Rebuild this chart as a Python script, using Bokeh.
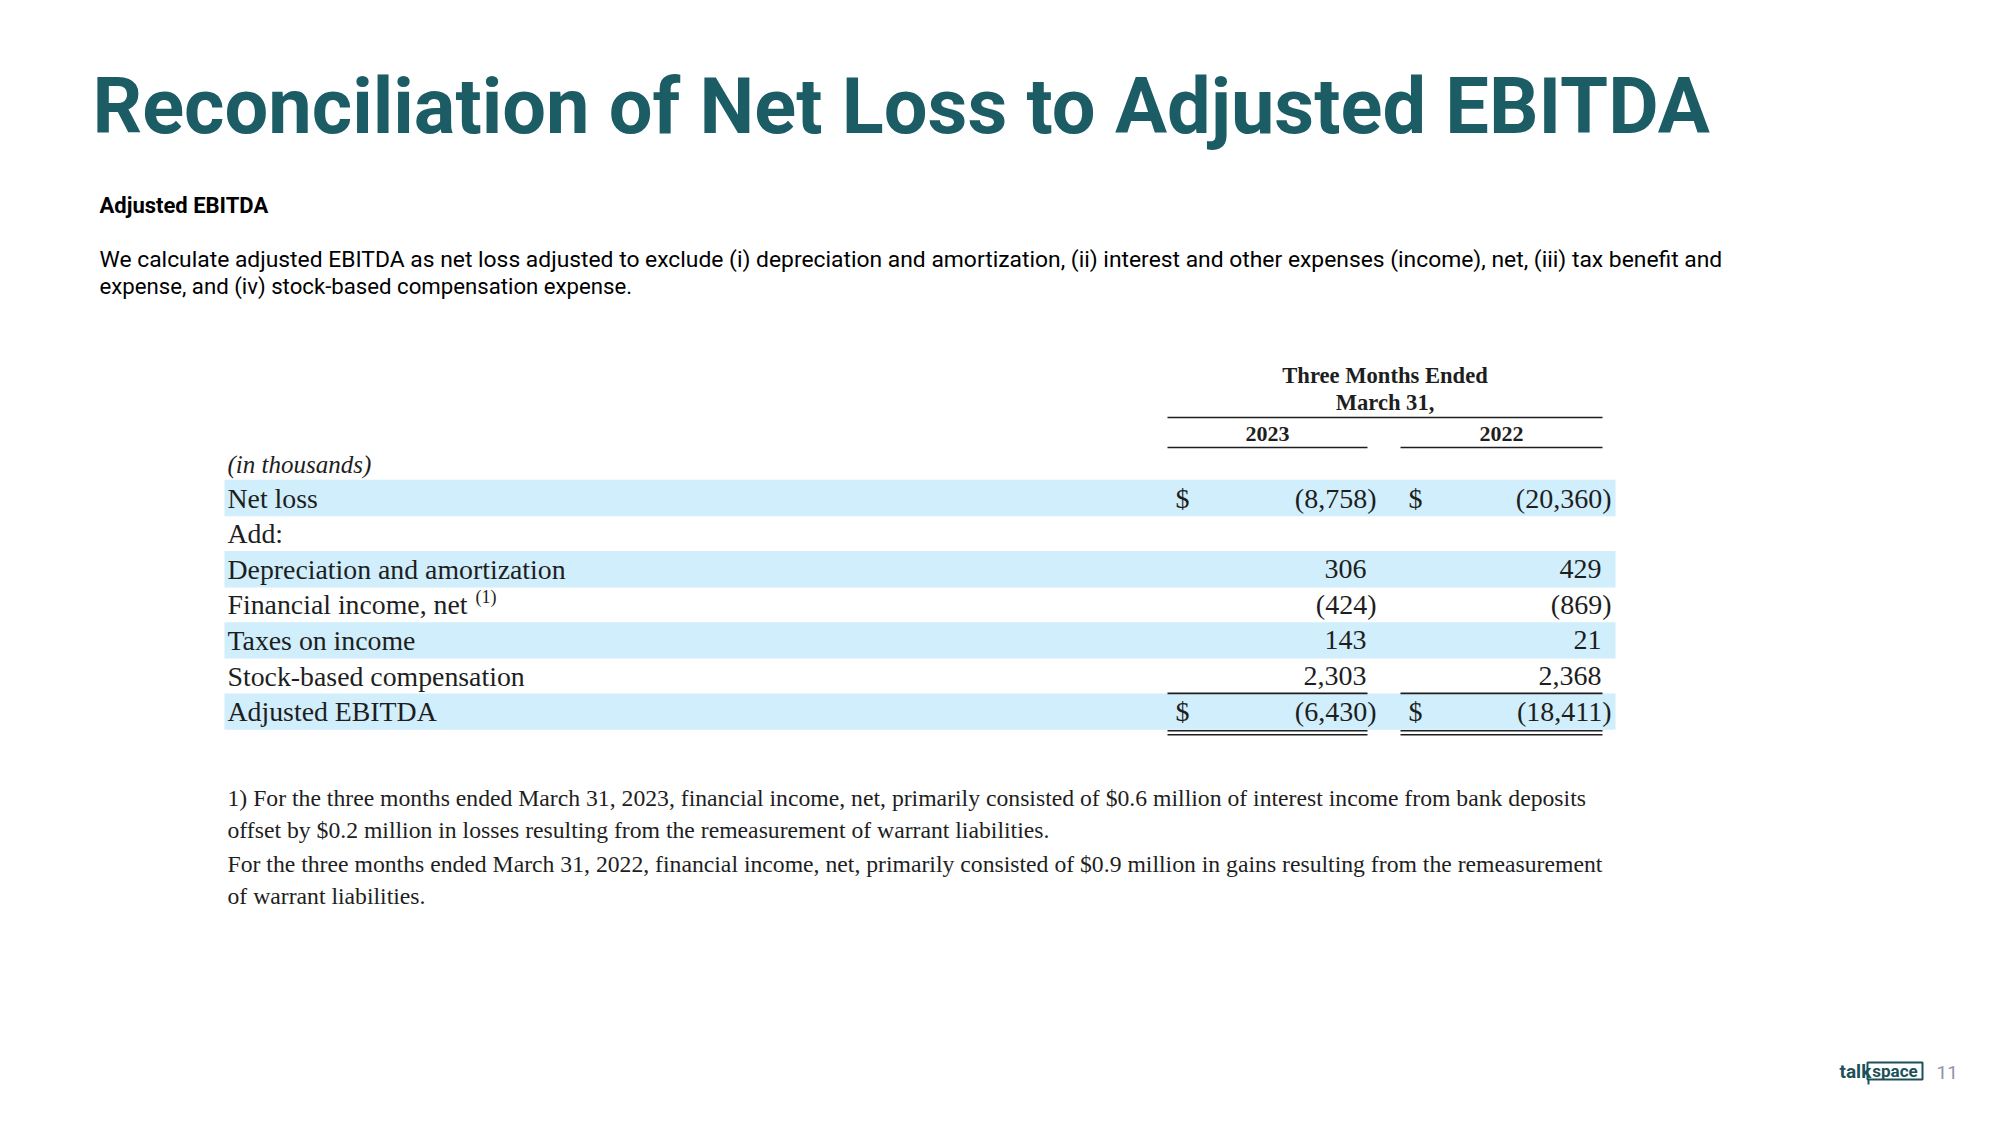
from bokeh.plotting import figure
from bokeh.models import Range1d
from bokeh.embed import file_html
from bokeh.resources import INLINE
from bokeh.core.properties import value

# ---------------- data ----------------
title = "Reconciliation of Net Loss to Adjusted EBITDA"
subtitle = "Adjusted EBITDA"
paragraph = [
    "We calculate adjusted EBITDA as net loss adjusted to exclude (i) depreciation and amortization, (ii) interest and other expenses (income), net, (iii) tax benefit and",
    "expense, and (iv) stock-based compensation expense.",
]
header_lines = ["Three Months Ended", "March 31,"]
years = ["2023", "2022"]
unit_label = "(in thousands)"
row_labels = ["Net loss", "Add:", "Depreciation and amortization", "Financial income, net",
              "Taxes on income", "Stock-based compensation", "Adjusted EBITDA"]
values_2023 = [-8758, None, 306, -424, 143, 2303, -6430]
values_2022 = [-20360, None, 429, -869, 21, 2368, -18411]
dollar_rows = ["Net loss", "Adjusted EBITDA"]
shaded_rows = ["Net loss", "Depreciation and amortization", "Taxes on income", "Adjusted EBITDA"]
footnote_ref = {"Financial income, net": "(1)"}
footnotes = [
    "1) For the three months ended March 31, 2023, financial income, net, primarily consisted of $0.6 million of interest income from bank deposits",
    "offset by $0.2 million in losses resulting from the remeasurement of warrant liabilities.",
    "For the three months ended March 31, 2022, financial income, net, primarily consisted of $0.9 million in gains resulting from the remeasurement",
    "of warrant liabilities.",
]
page_number = "11"

# ---------------- layout ----------------
W, H = 1984, 1109
TEAL = "#1b5c65"
BAND = "#d0eefb"
INK = "#1e1e1e"
SERIF = "Liberation Serif"

p = figure(width=W, height=H, x_range=Range1d(0, W), y_range=Range1d(H, 0),
           output_backend="svg", toolbar_location=None, min_border=0)
p.axis.visible = False
p.grid.visible = False
p.outline_line_color = None
p.background_fill_color = "white"
p.border_fill_color = "white"

# title block
p.text(x=[92], y=[106], text=[title], text_font=value("Roboto"), text_font_style="bold",
       text_font_size="77.6px", text_color=TEAL, text_baseline="middle", text_align="left")
p.text(x=[99], y=[205], text=[subtitle], text_font=value("Roboto"), text_font_style="bold",
       text_font_size="22px", text_color="black", text_baseline="middle", text_align="left")
p.text(x=[99], y=[259], text=[paragraph[0]], text_font=value("Roboto"), text_font_size="22.85px",
       text_color="black", text_baseline="middle", text_align="left")
p.text(x=[99], y=[285], text=[paragraph[1]], text_font=value("Roboto"), text_font_size="22.2px",
       text_color="black", text_baseline="middle", text_align="left")

# table geometry
row0 = 497.5
pitch = 35.6
half = 18.2
label_x = 227
band_left, band_right = 224, 1615
col_left = [1167, 1400]
col_right = [1367, 1602]
paren = 10

centers = [row0 + pitch * i for i in range(len(row_labels))]

# shaded bands
sh = [i for i, r in enumerate(row_labels) if r in shaded_rows]
p.quad(left=[band_left] * len(sh), right=[band_right] * len(sh),
       top=[centers[i] - half for i in sh], bottom=[centers[i] + half for i in sh],
       fill_color=BAND, line_color=None)

# header
p.text(x=[(col_left[0] + col_right[1]) / 2] * 2, y=[375, 402], text=header_lines,
       text_font=value(SERIF), text_font_style="bold", text_font_size="22.6px",
       text_color=INK, text_align="center", text_baseline="middle")
p.text(x=[(a + b) / 2 for a, b in zip(col_left, col_right)], y=[433, 433], text=years,
       text_font=value(SERIF), text_font_style="bold", text_font_size="22px",
       text_color=INK, text_align="center", text_baseline="middle")
p.segment(x0=[col_left[0]], x1=[col_right[1]], y0=[417], y1=[417], line_color=INK, line_width=1.6)
p.segment(x0=col_left, x1=col_right, y0=[447, 447], y1=[447, 447], line_color=INK, line_width=1.6)

# unit label
p.text(x=[label_x], y=[row0 - pitch + 2], text=[unit_label], text_font=value(SERIF),
       text_font_style="italic", text_font_size="25px", text_color=INK,
       text_baseline="middle", text_align="left")

# row labels
p.text(x=[label_x] * len(row_labels), y=centers, text=row_labels, text_font=value(SERIF),
       text_font_size="27.8px", text_color=INK, text_baseline="middle", text_align="left")
for i, r in enumerate(row_labels):
    if r in footnote_ref:
        p.text(x=[475], y=[centers[i] - 8], text=[footnote_ref[r]], text_font=value(SERIF),
               text_font_size="18px", text_color=INK, text_baseline="middle", text_align="left")


def fmt(v):
    if v is None:
        return ""
    s = f"{abs(v):,}"
    return f"({s})" if v < 0 else s


for c, vals in enumerate([values_2023, values_2022]):
    xs, ys, ts = [], [], []
    for i, v in enumerate(vals):
        if v is None:
            continue
        xs.append(col_right[c] - 1 + (paren if v < 0 else 0))
        ys.append(centers[i])
        ts.append(fmt(v))
    p.text(x=xs, y=ys, text=ts, text_font=value(SERIF), text_font_size="28px",
           text_color=INK, text_baseline="middle", text_align="right")
    d = [i for i, r in enumerate(row_labels) if r in dollar_rows]
    p.text(x=[col_left[c] + 8] * len(d), y=[centers[i] for i in d], text=["$"] * len(d),
           text_font=value(SERIF), text_font_size="28px", text_color=INK,
           text_baseline="middle", text_align="left")

# total rules
last = len(row_labels) - 1
top_tot = centers[last] - half
bot_tot = centers[last] + half
p.segment(x0=col_left, x1=col_right, y0=[top_tot] * 2, y1=[top_tot] * 2, line_color=INK, line_width=1.6)
p.segment(x0=col_left * 2, x1=col_right * 2, y0=[bot_tot + 1] * 2 + [bot_tot + 5] * 2,
          y1=[bot_tot + 1] * 2 + [bot_tot + 5] * 2, line_color=INK, line_width=1.6)

# footnotes
p.text(x=[label_x] * len(footnotes), y=[797, 829, 863, 895], text=footnotes,
       text_font=value(SERIF), text_font_size="23.7px", text_color=INK,
       text_baseline="middle", text_align="left")

# logo + page number
LOGO = "#1d5058"
p.text(x=[1839], y=[1071], text=["talk"], text_font=value("Roboto"), text_font_style="bold",
       text_font_size="19px", text_color=LOGO, text_baseline="middle", text_align="left")
p.quad(left=[1867], right=[1922], top=[1062], bottom=[1079], fill_color=None,
       line_color=LOGO, line_width=2)
p.segment(x0=[1868], x1=[1868], y0=[1079], y1=[1084], line_color=LOGO, line_width=2)
p.text(x=[1894.5], y=[1070], text=["space"], text_font=value("Roboto"), text_font_style="bold",
       text_font_size="17px", text_color=LOGO, text_baseline="middle", text_align="center")
p.text(x=[1936], y=[1072], text=[page_number], text_font=value("Roboto"),
       text_font_size="19px", text_color="#8c95a8", text_baseline="middle", text_align="left")

open("out.html", "w").write(file_html(p, INLINE))
